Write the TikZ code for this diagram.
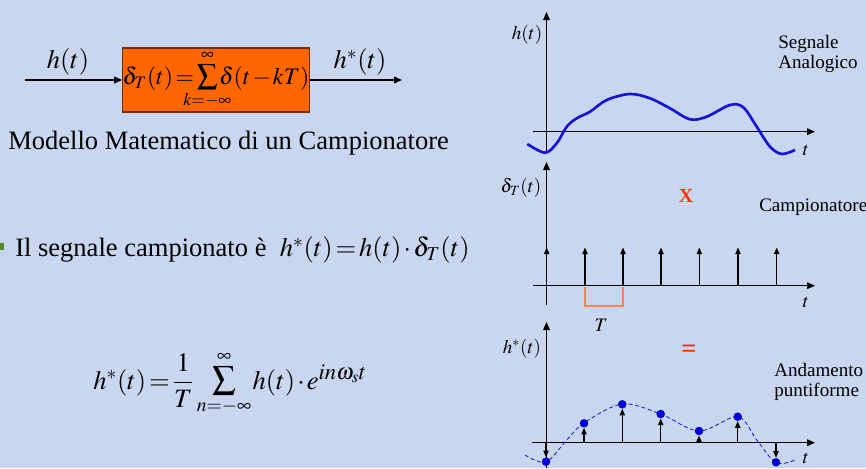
\documentclass[tikz,border=0pt]{standalone}
\usepackage{mathptmx}
\usepackage{mathtools}
\usepackage[no-math]{fontspec}
\setmainfont{Liberation Serif}
\usetikzlibrary{arrows.meta}
\definecolor{bg}{RGB}{200,214,240}
\definecolor{boxor}{RGB}{255,102,0}
\definecolor{boxbd}{RGB}{110,45,10}
\definecolor{sigblue}{RGB}{20,20,210}
\definecolor{dotblue}{RGB}{0,0,225}
\definecolor{redx}{RGB}{255,51,0}
\definecolor{brk}{RGB}{255,128,80}
\definecolor{bullet}{RGB}{80,140,40}
\newcommand{\tightmath}{\thickmuskip=2mu plus 1mu\medmuskip=1.5mu plus 1mu\thinmuskip=1mu}
\newcommand{\bigsum}[1]{\mathop{\mbox{\fontsize{#1}{#1}\selectfont$\sum$}}\limits}
\begin{document}
\begin{tikzpicture}[x=0.75pt,y=-0.75pt,
  big/.style={font=\fontsize{19.9}{24}\selectfont\tightmath, inner sep=0pt},
  lab/.style={font=\fontsize{14.3}{15}\selectfont, inner sep=0pt},
  axis/.style={line width=0.9pt, -{Triangle[length=6pt,width=5pt]}},
  imp/.style={line width=0.9pt, -{Triangle[length=5pt,width=4pt]}},
  flow/.style={line width=0.9pt, -{Triangle[length=6pt,width=5pt]}},
  sig/.style={sigblue, line width=2pt},
  dot/.style={fill=dotblue, draw=blue!60!black, line width=0.3pt},
]
\fill[bg] (0,0) rectangle (866,468);
\useasboundingbox (0,0) rectangle (866,468);

% ---- block diagram
\coordinate (in) at (25,80);
\coordinate (out) at (402,80);
\node[big] (hin) at (68,62) {$h(t)$};
\node[big] (hout) at (360,62) {$h^{*}(t)$};
\node[draw=boxbd, fill=boxor, line width=0.8pt, minimum width=136.5pt,
      minimum height=48pt, inner sep=0pt, font=\fontsize{17.8}{22}\selectfont\tightmath] (samp) at (216,80)
  {$\delta_T(t)=\bigsum{22}_{\mathclap{k=-\infty}}^{\infty}\delta(t-kT)$};
\draw[flow] (in) -- (samp.west);
\draw[flow] (samp.east) -- (out);

\node[big, anchor=west] (mm) at (8,143) {Modello Matematico di un Campionatore};

% ---- bullet
\fill[bullet] (0,243) rectangle (4,250);
\node[big, anchor=west] (seg) at (15,250) {Il segnale campionato è\ \ $h^{*}(t)=h(t)\cdot\delta_T(t)$};

% ---- formula
\node[big, anchor=west] (fs) at (93,383)
  {$h^{*}(t)=\displaystyle\frac{1}{T}\,\textstyle\bigsum{25}_{n=-\infty}^{\infty}h(t)\cdot e^{\mbox{\fontsize{17}{18}\selectfont$in\omega_s t$}}$};

% ---- plot 1
\draw[axis] (546.5,152) -- (546.5,12);
\draw[axis] (533,131.7) -- (815,131.7);
\node[lab] (l1) at (527,35) {$h(t)$};
\node[lab] (t1) at (806,150) {$t$};
\node[lab, anchor=west, align=left] (n1) at (778,54) {Segnale\\Analogico};
\draw[sig] plot[smooth, tension=0.55] coordinates {(527.3,144) (545,152.7) (556.7,143.3) (566.7,126.7) (576.7,118.3) (590,111.7) (606.7,100) (630,94) (650,98.3) (670,108.3) (690,119.3) (706.7,116.7) (730,105) (743.3,107.3) (756.7,126.7) (770,146.7) (781.7,154) (795,150)};

% ---- plot 2
\draw[axis] (546.5,305) -- (546.5,162);
\draw[axis] (533,285.7) -- (815,285.7);
\foreach \x in {546.7,585,623,661,699.3,738,776.7}
  \draw[imp] (\x,285.7) -- (\x,247.5);
\draw[brk, line width=0.8pt] (585,287) -- (585,306) -- (623,306) -- (623,287);
\node[lab] (tT) at (601,325) {$T$};
\node[lab] (l2) at (521,188) {$\delta_T(t)$};
\node[lab] (t2) at (806,302) {$t$};
\node[text=redx, inner sep=0pt, font=\bfseries\fontsize{15}{18}\selectfont] (x) at (686,196) {X};
\node[lab, anchor=west] (n2) at (759,207) {Campionatore};

% ---- plot 3
\draw[axis] (546.5,468) -- (546.5,322);
\draw[axis] (532,442.7) -- (815,442.7);
\draw[sigblue, line width=0.6pt, dash pattern=on 3pt off 2pt] plot[smooth, tension=0.55] coordinates {(525,455) (546,462) (566.7,440) (584,423) (622.3,404) (660.7,414) (699,431) (737.7,416.7) (756.7,440) (776,462.7) (795,460)};
\foreach \x/\y in {584/423.3,622.3/404.3,660.7/414,699/431,737.7/416.7}
  \draw[imp] (\x,442.7) -- (\x,\y+4.5);
\foreach \x/\y in {546/461.7,776/462.3}
  \draw[imp] (\x,442.7) -- (\x,\y-4.5);
\foreach \x/\y in {546/461.7,584/423.3,622.3/404.3,660.7/414,699/431,737.7/416.7,776/462.3}
  \filldraw[dot] (\x,\y) circle[radius=3pt];
\node[lab] (l3) at (522,349) {$h^{*}(t)$};
\node[lab] (t3) at (806,458) {$t$};
\node[text=redx, inner sep=0pt, font=\bfseries\fontsize{20}{22}\selectfont] (eq) at (689,351) {=};
\node[lab, anchor=west, align=left] (n3) at (774,382) {Andamento\\puntiforme};
\end{tikzpicture}
\end{document}
